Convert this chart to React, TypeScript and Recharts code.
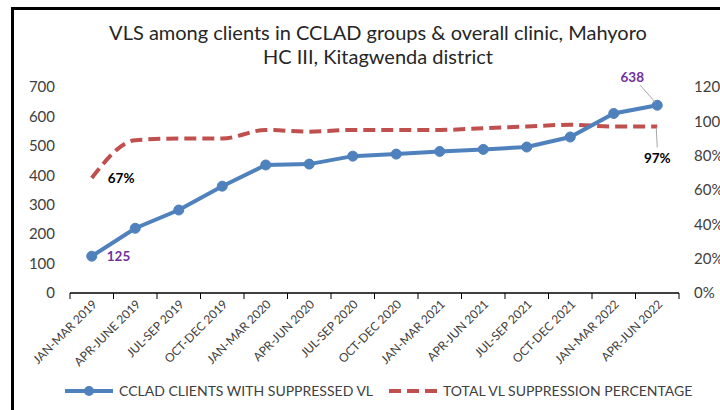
import React from 'react';
import {
  LineChart,
  Line,
  XAxis,
  YAxis,
  LabelList,
} from 'recharts';

// quarters on the x axis
const periods = [
  'JAN-MAR 2019',
  'APR-JUNE 2019',
  'JUL-SEP 2019',
  'OCT-DEC 2019',
  'JAN-MAR 2020',
  'APR-JUN 2020',
  'JUL-SEP 2020',
  'OCT-DEC 2020',
  'JAN-MAR 2021',
  'APR-JUN 2021',
  'JUL-SEP 2021',
  'OCT-DEC 2021',
  'JAN-MAR 2022',
  'APR-JUN 2022',
];

// CCLAD clients with suppressed VL (left axis)
const suppressedClients = [125, 220, 282, 363, 435, 438, 465, 472, 481, 488, 496, 530, 610, 638];

// total VL suppression percentage (right axis)
const suppressionPct = [67, 89, 90, 90, 95, 94, 95, 95, 95, 96, 97, 98, 97, 97];

const leftTicks = [0, 100, 200, 300, 400, 500, 600, 700];
const rightTicks = [0, 20, 40, 60, 80, 100, 120];

const data = periods.map((period, i) => ({
  period,
  clients: suppressedClients[i],
  pct: suppressionPct[i],
}));

const BLUE = '#4F81BD';
const RED = '#C0504D';
const PURPLE = '#7030A0';
const FONT = 'Lato, "Open Sans", sans-serif';
const HALF_BAND = 609 / periods.length / 2;
const LAST = periods.length - 1;

const XTick = (props: any) => {
  const { x, y, payload, index } = props;
  return (
    <g>
      <line x1={x - HALF_BAND} y1={y} x2={x - HALF_BAND} y2={y + 6} stroke="#000" />
      {index === LAST && (
        <line x1={x + HALF_BAND} y1={y} x2={x + HALF_BAND} y2={y + 6} stroke="#000" />
      )}
      <text
        transform={`translate(${x + 6},${y + 12}) rotate(-45)`}
        textAnchor="end"
        fontSize={12}
        fill="#404040"
        fontFamily={FONT}
      >
        {payload.value}
      </text>
    </g>
  );
};

const ClientsLabel = (props: any) => {
  const { x, y, index, value } = props;
  if (index === 0) {
    return (
      <text x={x + 15} y={y + 5} fill={PURPLE} fontSize={13.5} fontWeight="bold" fontFamily={FONT}>
        {value}
      </text>
    );
  }
  if (index === LAST) {
    return (
      <g>
        <line x1={x - 17} y1={y - 20} x2={x - 2} y2={y - 3} stroke="#A6A6A6" />
        <text x={x - 25} y={y - 23} textAnchor="middle" fill={PURPLE} fontSize={13.5} fontWeight="bold" fontFamily={FONT}>
          {value}
        </text>
      </g>
    );
  }
  return null;
};

const PctLabel = (props: any) => {
  const { x, y, index, value } = props;
  if (index === 0) {
    return (
      <text x={x + 16} y={y + 5} fill="#000" fontSize={13.5} fontWeight="bold" fontFamily={FONT}>
        {value}%
      </text>
    );
  }
  if (index === LAST) {
    return (
      <g>
        <line x1={x - 1} y1={y + 1} x2={x} y2={y + 21} stroke="#A6A6A6" />
        <text x={x} y={y + 37} textAnchor="middle" fill="#000" fontSize={13.5} fontWeight="bold" fontFamily={FONT}>
          {value}%
        </text>
      </g>
    );
  }
  return null;
};

const ChartLegend = () => (
  <div
    style={{
      position: 'absolute',
      left: 65,
      top: 382,
      display: 'flex',
      alignItems: 'center',
      fontFamily: FONT,
      fontSize: 14,
      lineHeight: '18px',
      color: '#404040',
      whiteSpace: 'nowrap',
    }}
  >
    <svg width={50} height={12}>
      <line x1={0} y1={6} x2={48} y2={6} stroke={BLUE} strokeWidth={4} />
      <circle cx={24} cy={6} r={5} fill={BLUE} />
    </svg>
    <span style={{ marginLeft: 4, marginRight: 16 }}>CCLAD CLIENTS WITH SUPPRESSED VL</span>
    <svg width={50} height={12}>
      <line x1={0} y1={6} x2={48} y2={6} stroke={RED} strokeWidth={4} strokeDasharray="12 6" />
    </svg>
    <span style={{ marginLeft: 4 }}>TOTAL VL SUPPRESSION PERCENTAGE</span>
  </div>
);

export default function App() {
  return (
    <div style={{ position: 'absolute', left: 0, top: 0, width: 720, height: 410, overflow: 'hidden', background: '#fff' }}>
      <div
        style={{
          position: 'absolute',
          left: 11,
          top: 7,
          width: 760,
          height: 440,
          border: '3px solid #000',
        }}
      />
      <div
        style={{
          position: 'absolute',
          left: 0,
          top: 20,
          width: 756,
          textAlign: 'center',
          fontFamily: FONT,
          fontSize: 20,
          lineHeight: '24px',
          color: '#262626',
        }}
      >
        VLS among clients in CCLAD groups &amp; overall clinic, Mahyoro
        <br />
        HC III, Kitagwenda district
      </div>
      <div style={{ position: 'absolute', left: 0, top: 0 }}>
        <LineChart
          width={720}
          height={410}
          data={data}
          margin={{ top: 87, right: 0, left: 10, bottom: 0 }}
        >
          <XAxis
            dataKey="period"
            interval={0}
            padding={{ left: HALF_BAND, right: HALF_BAND }}
            axisLine={{ stroke: '#000', strokeWidth: 1.5 }}
            tickLine={false}
            tickSize={0}
            tickMargin={0}
            height={117}
            tick={<XTick />}
          />
          <YAxis
            yAxisId="left"
            domain={[0, 700]}
            ticks={leftTicks}
            width={60}
            axisLine={false}
            tickLine={false}
            tickMargin={9}
            tick={{ fontSize: 15, fill: '#404040', fontFamily: FONT }}
          />
          <YAxis
            yAxisId="right"
            orientation="right"
            domain={[0, 120]}
            ticks={rightTicks}
            width={41}
            axisLine={false}
            tickLine={false}
            tickMargin={9}
            tickFormatter={(v) => `${v}%`}
            tick={{ fontSize: 15, fill: '#404040', fontFamily: FONT, textAnchor: 'start' }}
          />
          <Line
            yAxisId="right"
            type="monotone"
            dataKey="pct"
            stroke={RED}
            strokeWidth={4}
            strokeDasharray="12 6"
            dot={false}
            isAnimationActive={false}
          >
            <LabelList dataKey="pct" content={<PctLabel />} />
          </Line>
          <Line
            yAxisId="left"
            type="linear"
            dataKey="clients"
            stroke={BLUE}
            strokeWidth={4}
            dot={{ r: 5, fill: BLUE, stroke: BLUE, strokeWidth: 1 }}
            isAnimationActive={false}
          >
            <LabelList dataKey="clients" content={<ClientsLabel />} />
          </Line>
        </LineChart>
      </div>
      <ChartLegend />
    </div>
  );
}
